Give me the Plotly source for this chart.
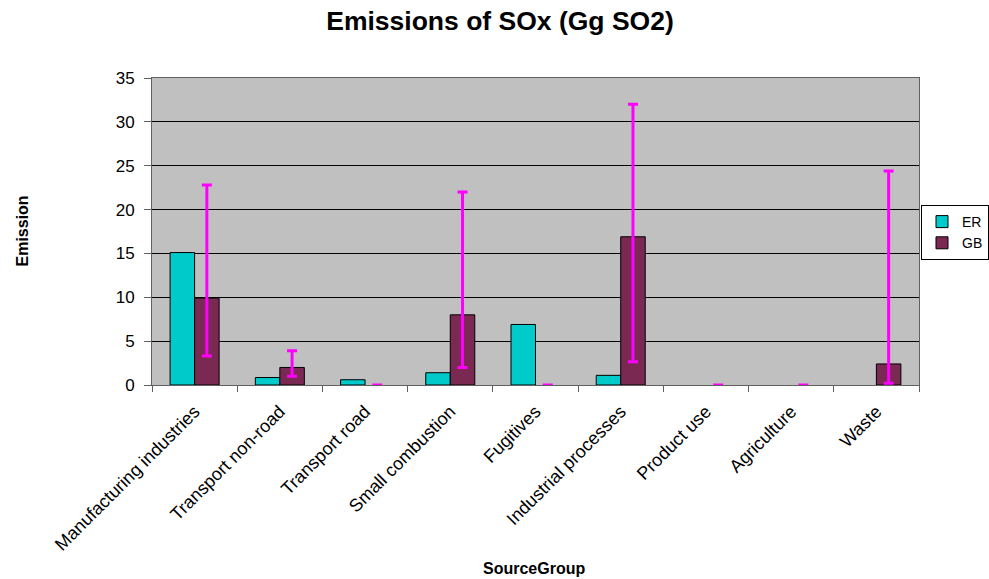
import plotly.graph_objects as go

categories = ["Manufacturing industries", "Transport non-road", "Transport road",
              "Small combustion", "Fugitives", "Industrial processes",
              "Product use", "Agriculture", "Waste"]
er_values = [15.1, 0.85, 0.6, 1.4, 6.9, 1.1, 0, 0, 0]
gb_values = [9.9, 2.0, 0, 8.0, 0, 16.9, 0, 0, 2.4]
gb_high = [22.8, 3.9, 0, 22.0, 0, 32.0, 0, 0, 24.4]
gb_low = [3.3, 1.0, 0, 2.0, 0, 2.65, 0, 0, 0.2]
y_ticks = [0, 5, 10, 15, 20, 25, 30, 35]

err_plus = [h - v for h, v in zip(gb_high, gb_values)]
err_minus = [v - l for v, l in zip(gb_values, gb_low)]

FONT = "Liberation Sans, Arial, sans-serif"

fig = go.Figure()
fig.add_trace(go.Bar(
    x=categories, y=er_values, name="ER",
    marker=dict(color="#00CACA",
                line=dict(color="#000000", width=[1 if v > 0 else 0 for v in er_values])),
))
fig.add_trace(go.Bar(
    x=categories, y=gb_values, name="GB",
    marker=dict(color="#7A2A52",
                line=dict(color="#000000", width=[1 if v > 0 else 0 for v in gb_values])),
    error_y=dict(type="data", symmetric=False, array=err_plus, arrayminus=err_minus,
                 color="#FF00FF", thickness=3, width=5),
))

W, H = 989, 579
L, R, T, B = 152, 70, 78, 194
PW, PH = W - L - R, H - T - B
fig.update_layout(
    width=W, height=H,
    margin=dict(l=L, r=R, t=T, b=B, pad=0, autoexpand=False),
    paper_bgcolor="white",
    plot_bgcolor="#C0C0C0",
    barmode="group",
    bargap=0.425,
    bargroupgap=0,
    font=dict(family=FONT, color="black"),
    title=dict(text="<b>Emissions of SOx (Gg SO2)</b>", font=dict(size=26.5, family=FONT),
               x=500 / W, xanchor="center", xref="container",
               y=1 - 21 / H, yanchor="middle", yref="container"),
    legend=dict(x=(989 - L) / PW, y=(385 - 205) / PH, xanchor="right", yanchor="top",
                bordercolor="black", borderwidth=1, bgcolor="white",
                font=dict(size=14, family=FONT), tracegroupgap=4,
                itemwidth=30),
    showlegend=True,
    annotations=[
        dict(text="<b>Emission</b>", textangle=-90, xref="paper", yref="paper",
             x=(22 - L) / PW, y=0.5, xanchor="center", yanchor="middle",
             showarrow=False, font=dict(size=16, family=FONT)),
        dict(text="<b>SourceGroup</b>", xref="paper", yref="paper",
             x=(534 - L) / PW, y=-(568 - 385) / PH, xanchor="center", yanchor="middle",
             showarrow=False, font=dict(size=16, family=FONT)),
    ],
)
fig.update_xaxes(
    tickangle=-45, tickfont=dict(size=18, family=FONT),
    showline=True, linecolor="#606060", linewidth=1, mirror=True,
    ticks="outside", ticklen=6, tickcolor="#606060", tickson="boundaries",
    ticklabelstandoff=8,
    showgrid=False, automargin=False,
)
fig.update_yaxes(
    range=[0, 35], tickvals=y_ticks, tickfont=dict(size=17, family=FONT),
    showline=True, linecolor="#606060", linewidth=1, mirror=True,
    ticks="outside", ticklen=7, tickcolor="#606060", ticklabelstandoff=6,
    showgrid=True, gridcolor="#000000", gridwidth=1, zeroline=False,
    automargin=False,
)

fig.write_html("out.html", config={"displayModeBar": False},
               post_script="document.body.style.margin='0';document.body.style.overflow='hidden';")
